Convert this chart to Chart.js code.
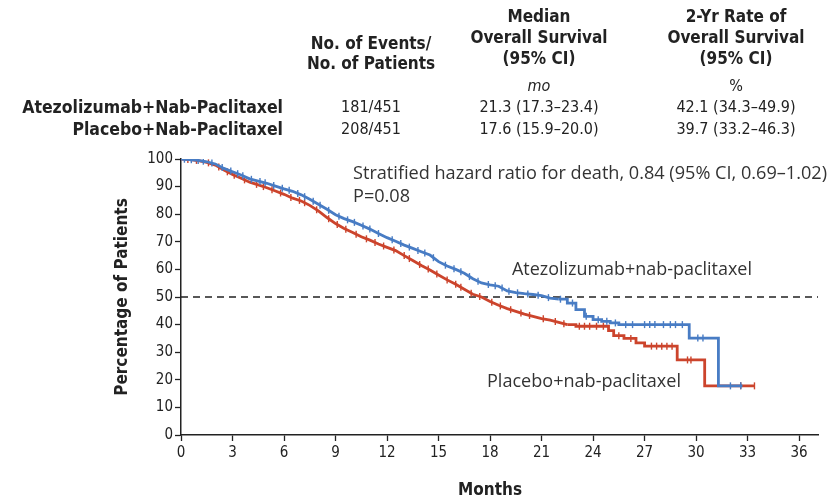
<!DOCTYPE html>
<html>
<head>
<meta charset="utf-8">
<script src="https://cdn.jsdelivr.net/npm/chart.js@4.4.1/dist/chart.umd.min.js"></script>
<style>
  html, body { margin: 0; padding: 0; background: #fff; }
  #wrap { width: 830px; height: 503px; position: relative; }
</style>
</head>
<body>
<div id="wrap"><canvas id="km" width="830" height="503"></canvas></div>
<script>
// Kaplan-Meier overall survival, two arms (time in months, survival in %)
const atezoTimes = [0,0.5,1,1.5,2,2.5,3,3.5,4,4.5,5,5.5,6,6.5,7,7.5,8,8.5,9,9.5,10,10.5,11,11.5,12,12.5,13,13.5,14,14.5,15,15.5,16,16.5,17,17.5,18,18.5,19,19.5,20,20.5,21,21.5,22,22.5,23,23.5,24,24.5,25,25.5,29.6,31.3,32.7];
const atezoSurv  = [100,99.8,99.5,99.0,98.2,96.6,95.4,94.2,92.8,92.0,91.2,90.2,89.2,88.3,87.0,85.4,83.6,81.8,79.8,78.4,77.3,76.0,74.6,73.0,71.5,70.2,68.8,67.6,66.4,65.2,62.8,61.2,60.0,58.6,56.6,55.1,54.4,53.9,52.2,51.6,51.2,50.9,50.5,49.6,49.2,47.8,45.4,43.0,41.8,41.2,40.6,40.0,35.1,17.8,17.8];

const placeboTimes = [0,0.5,1,1.5,2,2.5,3,3.5,4,4.5,5,5.5,6,6.5,7,7.5,8,8.5,9,9.5,10,10.5,11,11.5,12,12.5,13,13.5,14,14.5,15,15.5,16,16.5,17,17.5,18,18.5,19,19.5,20,20.5,21,21.5,22,22.5,23,24.9,25.2,25.8,26.5,27,28.9,30.5,33.4];
const placeboSurv  = [100,99.8,99.4,98.8,97.8,96.0,94.4,93.0,91.6,90.6,89.6,88.4,87.2,85.8,84.8,83.2,81.2,78.8,76.6,74.8,73.4,71.8,70.6,69.2,68.0,66.8,65.0,63.2,61.4,59.8,58.0,56.2,54.6,52.8,51.0,50.0,48.4,47.0,45.8,44.8,43.8,43.0,42.2,41.6,40.8,40.0,39.4,37.8,36.0,35.0,33.4,32.2,27.2,17.8,17.8];

// Censoring times (tick marks on the curves)
const atezoCensor   = [0.2,0.6,1.0,1.3,1.8,2.4,2.9,3.3,3.6,4.1,4.6,4.9,5.4,5.9,6.3,6.8,7.2,7.7,8.1,8.6,9.2,9.7,10.1,10.6,11.0,11.5,12.3,12.8,13.3,13.8,14.2,14.7,15.4,15.9,16.3,16.8,17.3,17.9,18.3,18.7,19.1,19.6,20.2,20.8,21.4,22.1,22.8,23.6,24.3,24.8,25.3,25.9,26.3,27.0,27.3,27.6,28.1,28.5,28.8,29.2,30.1,30.4,32.0,32.6];
const placeboCensor = [0.4,0.9,1.6,2.2,2.7,3.1,3.7,4.4,4.8,5.3,5.8,6.4,6.9,7.2,7.9,8.6,9.1,9.6,10.2,10.8,11.3,11.8,12.4,13.0,13.3,13.9,14.4,14.9,15.5,16.0,16.3,16.9,17.4,18.1,18.6,19.2,19.8,20.3,21.1,21.8,22.3,23.2,23.5,23.8,24.2,24.6,25.5,26.2,27.4,27.7,28.0,28.3,28.6,29.5,29.7,32.6,33.4];

// Month from which each curve is drawn as visible steps (many small steps before it)
const atezoStepFrom = 22;
const placeboStepFrom = 22.5;

const xTickValues = [0,3,6,9,12,15,18,21,24,27,30,33,36];
const yTickValues = [0,10,20,30,40,50,60,70,80,90,100];
const medianLine = 50;

const armNames   = ['Atezolizumab+Nab-Paclitaxel', 'Placebo+Nab-Paclitaxel'];
const curveNames = ['Atezolizumab+nab-paclitaxel', 'Placebo+nab-paclitaxel'];
const eventsCol  = ['181/451', '208/451'];
const medianCol  = ['21.3 (17.3\u201323.4)', '17.6 (15.9\u201320.0)'];
const rateCol    = ['42.1 (34.3\u201349.9)', '39.7 (33.2\u201346.3)'];
const hazardText = ['Stratified hazard ratio for death, 0.84 (95% CI, 0.69\u20131.02)', 'P=0.08'];

const BLUE = 'rgb(72,124,196)';
const RED  = 'rgb(204,68,44)';

function toPoints(ts, ss, lo, hi) {
  const pts = [];
  ts.forEach((t, i) => { if (t >= lo && t <= hi) pts.push({ x: t, y: ss[i] }); });
  return pts;
}
function survAt(ts, ss, t) {
  // value on the drawn curve at time t (straight segments early, steps late)
  let i = 0;
  while (i + 1 < ts.length && ts[i + 1] <= t) i++;
  return ss[i];
}
function survAtLinear(ts, ss, t) {
  let i = 0;
  while (i + 1 < ts.length && ts[i + 1] <= t) i++;
  if (i + 1 >= ts.length) return ss[i];
  const f = (t - ts[i]) / (ts[i + 1] - ts[i]);
  return ss[i] + f * (ss[i + 1] - ss[i]);
}
function censorPoints(cs, ts, ss, stepFrom) {
  return cs.map(t => ({ x: t, y: t < stepFrom ? survAtLinear(ts, ss, t) : survAt(ts, ss, t) }));
}

const SANS = "'Liberation Sans Narrow', 'DejaVu Sans Condensed', 'Liberation Sans', sans-serif";
const BODY = "'Open Sans', 'Lato', sans-serif";

// draw text with its font size chosen to span a given width
function fitText(ctx, text, x, y, width, family) {
  ctx.font = '100px ' + family;
  const w = ctx.measureText(text).width;
  const size = 100 * width / w;
  ctx.font = size.toFixed(2) + 'px ' + family;
  ctx.fillText(text, x, y);
  return size;
}

const textPlugin = {
  id: 'kmText',
  afterDraw(chart) {
    const ctx = chart.ctx;
    const xs = chart.scales.x, ys = chart.scales.y;
    ctx.save();
    ctx.fillStyle = '#222';
    ctx.textBaseline = 'middle';

    // table header
    ctx.font = 'bold 17px ' + SANS;
    ctx.textAlign = 'center';
    ctx.fillText('Median', 539, 18);
    ctx.fillText('Overall Survival', 539, 39);
    ctx.fillText('(95% CI)', 539, 60);
    ctx.fillText('2-Yr Rate of', 736, 18);
    ctx.fillText('Overall Survival', 736, 39);
    ctx.fillText('(95% CI)', 736, 60);
    ctx.fillText('No. of Events/', 371, 45);
    ctx.fillText('No. of Patients', 371, 65);

    ctx.font = 'italic 16px ' + SANS;
    ctx.fillText('mo', 539, 87);
    ctx.font = '16px ' + SANS;
    ctx.fillText('%', 736, 87);

    // table rows
    const rowY = [108, 130];
    for (let i = 0; i < 2; i++) {
      ctx.font = 'bold 17.5px ' + SANS;
      ctx.textAlign = 'right';
      ctx.fillText(armNames[i], 283, rowY[i]);
      ctx.font = '16px ' + SANS;
      ctx.textAlign = 'center';
      ctx.fillText(eventsCol[i], 371, rowY[i]);
      ctx.fillText(medianCol[i], 539, rowY[i]);
      ctx.fillText(rateCol[i], 736, rowY[i]);
    }

    // annotations inside the plot
    ctx.textAlign = 'left';
    ctx.fillStyle = '#333';
    const hs = fitText(ctx, hazardText[0], 353, 174, 474, BODY);
    ctx.font = hs.toFixed(2) + 'px ' + BODY;
    ctx.fillText(hazardText[1], 353, 197);
    fitText(ctx, curveNames[0], 512, 270, 240, BODY);
    fitText(ctx, curveNames[1], 487, 382, 194, BODY);

    // axis titles
    ctx.fillStyle = '#222';
    ctx.font = 'bold 17px ' + SANS;
    ctx.textAlign = 'center';
    ctx.fillText('Months', (xs.getPixelForValue(0) + xs.getPixelForValue(36)) / 2, 491);
    ctx.translate(123, (ys.getPixelForValue(0) + ys.getPixelForValue(100)) / 2);
    ctx.rotate(-Math.PI / 2);
    ctx.fillText('Percentage of Patients', 0, 0);
    ctx.restore();
  }
};

const curveStyle = { borderWidth: 2.8, pointRadius: 0, fill: false };

new Chart(document.getElementById('km'), {
  type: 'line',
  data: {
    datasets: [
      Object.assign({ label: curveNames[0], data: toPoints(atezoTimes, atezoSurv, 0, atezoStepFrom),
        borderColor: BLUE, stepped: false, tension: 0, order: 1 }, curveStyle),
      Object.assign({ label: curveNames[0] + ' late', data: toPoints(atezoTimes, atezoSurv, atezoStepFrom, 99),
        borderColor: BLUE, stepped: true, order: 1 }, curveStyle),
      Object.assign({ label: curveNames[1], data: toPoints(placeboTimes, placeboSurv, 0, placeboStepFrom),
        borderColor: RED, stepped: false, tension: 0, order: 3 }, curveStyle),
      Object.assign({ label: curveNames[1] + ' late', data: toPoints(placeboTimes, placeboSurv, placeboStepFrom, 99),
        borderColor: RED, stepped: true, order: 3 }, curveStyle),
      {
        label: 'atezo censored',
        data: censorPoints(atezoCensor, atezoTimes, atezoSurv, atezoStepFrom),
        showLine: false, pointStyle: 'line', rotation: 90,
        pointRadius: 3.5, pointBorderWidth: 1.4, borderColor: BLUE, order: 0
      },
      {
        label: 'placebo censored',
        data: censorPoints(placeboCensor, placeboTimes, placeboSurv, placeboStepFrom),
        showLine: false, pointStyle: 'line', rotation: 90,
        pointRadius: 3.5, pointBorderWidth: 1.4, borderColor: RED, order: 2
      },
      {
        label: 'median',
        data: [{ x: 0, y: medianLine }, { x: 37.1, y: medianLine }],
        borderColor: '#222', borderWidth: 1.3, borderDash: [7, 5],
        pointRadius: 0, fill: false, order: 4
      }
    ]
  },
  options: {
    responsive: false,
    animation: false,
    events: [],
    layout: { padding: { top: 159, right: 12, left: 0, bottom: 0 } },
    plugins: { legend: { display: false }, tooltip: { enabled: false } },
    scales: {
      x: {
        type: 'linear', min: 0, max: 37.1,
        afterBuildTicks(scale) { scale.ticks = xTickValues.map(v => ({ value: v })); },
        afterFit(scale) { scale.height = 68; },
        border: { display: true, color: '#222', width: 1.5 },
        grid: { drawOnChartArea: false, drawTicks: true, tickLength: 6, color: '#222', tickWidth: 1.3 },
        ticks: { color: '#222', font: { family: SANS, size: 15 }, padding: 3, maxRotation: 0, autoSkip: false }
      },
      y: {
        type: 'linear', min: 0, max: 100,
        afterBuildTicks(scale) { scale.ticks = yTickValues.map(v => ({ value: v })); },
        afterFit(scale) { scale.width = 181; },
        border: { display: true, color: '#222', width: 1.5 },
        grid: { drawOnChartArea: false, drawTicks: true, tickLength: 6, color: '#222', tickWidth: 1.3 },
        ticks: { color: '#222', font: { family: SANS, size: 15 }, padding: 2, autoSkip: false }
      }
    }
  },
  plugins: [textPlugin]
});
</script>
</body>
</html>
